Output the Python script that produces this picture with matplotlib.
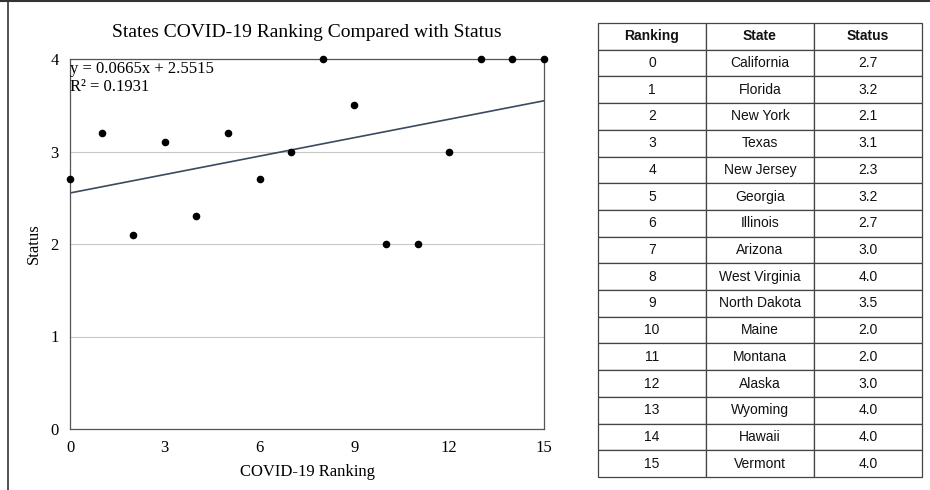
import numpy as np
import matplotlib
matplotlib.use('Agg')
import matplotlib.pyplot as plt
from matplotlib.lines import Line2D

ranking = list(range(16))
states = ["California", "Florida", "New York", "Texas", "New Jersey", "Georgia",
          "Illinois", "Arizona", "West Virginia", "North Dakota", "Maine", "Montana",
          "Alaska", "Wyoming", "Hawaii", "Vermont"]
status = [2.7, 3.2, 2.1, 3.1, 2.3, 3.2, 2.7, 3.0, 4.0, 3.5, 2.0, 2.0, 3.0, 4.0, 4.0, 4.0]

serif = "Liberation Serif"
sans = "Liberation Sans"

fig = plt.figure(figsize=(9.3, 4.9), dpi=100)

# scatter chart
ax = fig.add_axes([70/930, 1 - 429/490, 474/930, 370/490])
x = np.array(ranking)
y = np.array(status)
m, b = np.polyfit(x, y, 1)
xs = np.array([0, 15])
ax.plot(xs, m*xs + b, color='#3b4a5e', lw=1.2, zorder=2)
ax.scatter(x, y, s=20, color='black', zorder=3, clip_on=False)
ax.set_xlim(0, 15)
ax.set_ylim(0, 4)
ax.set_xticks([0, 3, 6, 9, 12, 15])
ax.set_yticks([0, 1, 2, 3, 4])
ax.grid(axis='y', color='#c8c8c8', lw=0.8)
ax.set_axisbelow(True)
for s in ax.spines.values():
    s.set_color('#555555')
    s.set_linewidth(0.9)
ax.tick_params(length=0, labelsize=12, pad=8)
for lab in ax.get_xticklabels() + ax.get_yticklabels():
    lab.set_fontfamily(serif)
ax.set_xlabel("COVID-19 Ranking", fontfamily=serif, fontsize=12, labelpad=6)
ax.set_ylabel("Status", fontfamily=serif, fontsize=12, labelpad=6)
ax.set_title("States COVID-19 Ranking Compared with Status", fontfamily=serif,
             fontsize=14, pad=16)
ax.text(0.0, 0.995, "y = 0.0665x + 2.5515\nR² = 0.1931", transform=ax.transAxes,
        fontfamily=serif, fontsize=12, va='top', ha='left', linespacing=1.2)

# data table
tax = fig.add_axes([598/930, 1 - 477/490, 324/930, 454/490])
tax.axis('off')
cells = [[str(r), s, f"{v:.1f}"] for r, s, v in zip(ranking, states, status)]
tbl = tax.table(cellText=cells, colLabels=["Ranking", "State", "Status"],
                cellLoc='center', bbox=[0, 0, 1, 1],
                colWidths=[108/324, 108/324, 108/324])
tbl.auto_set_font_size(False)
for (r, c), cell in tbl.get_celld().items():
    cell.set_edgecolor('#444444')
    cell.set_linewidth(0.9)
    cell.get_text().set_fontfamily(sans)
    cell.get_text().set_fontsize(10)
    cell.get_text().set_color('#111111')
    if r == 0:
        cell.get_text().set_fontweight('bold')

# outer frame lines
fig.add_artist(Line2D([0, 1], [1 - 1.5/490, 1 - 1.5/490], color='#333333', lw=1.5))
fig.add_artist(Line2D([7.5/930, 7.5/930], [0, 1], color='#333333', lw=1.2))

fig.savefig("out.png", dpi=100)
